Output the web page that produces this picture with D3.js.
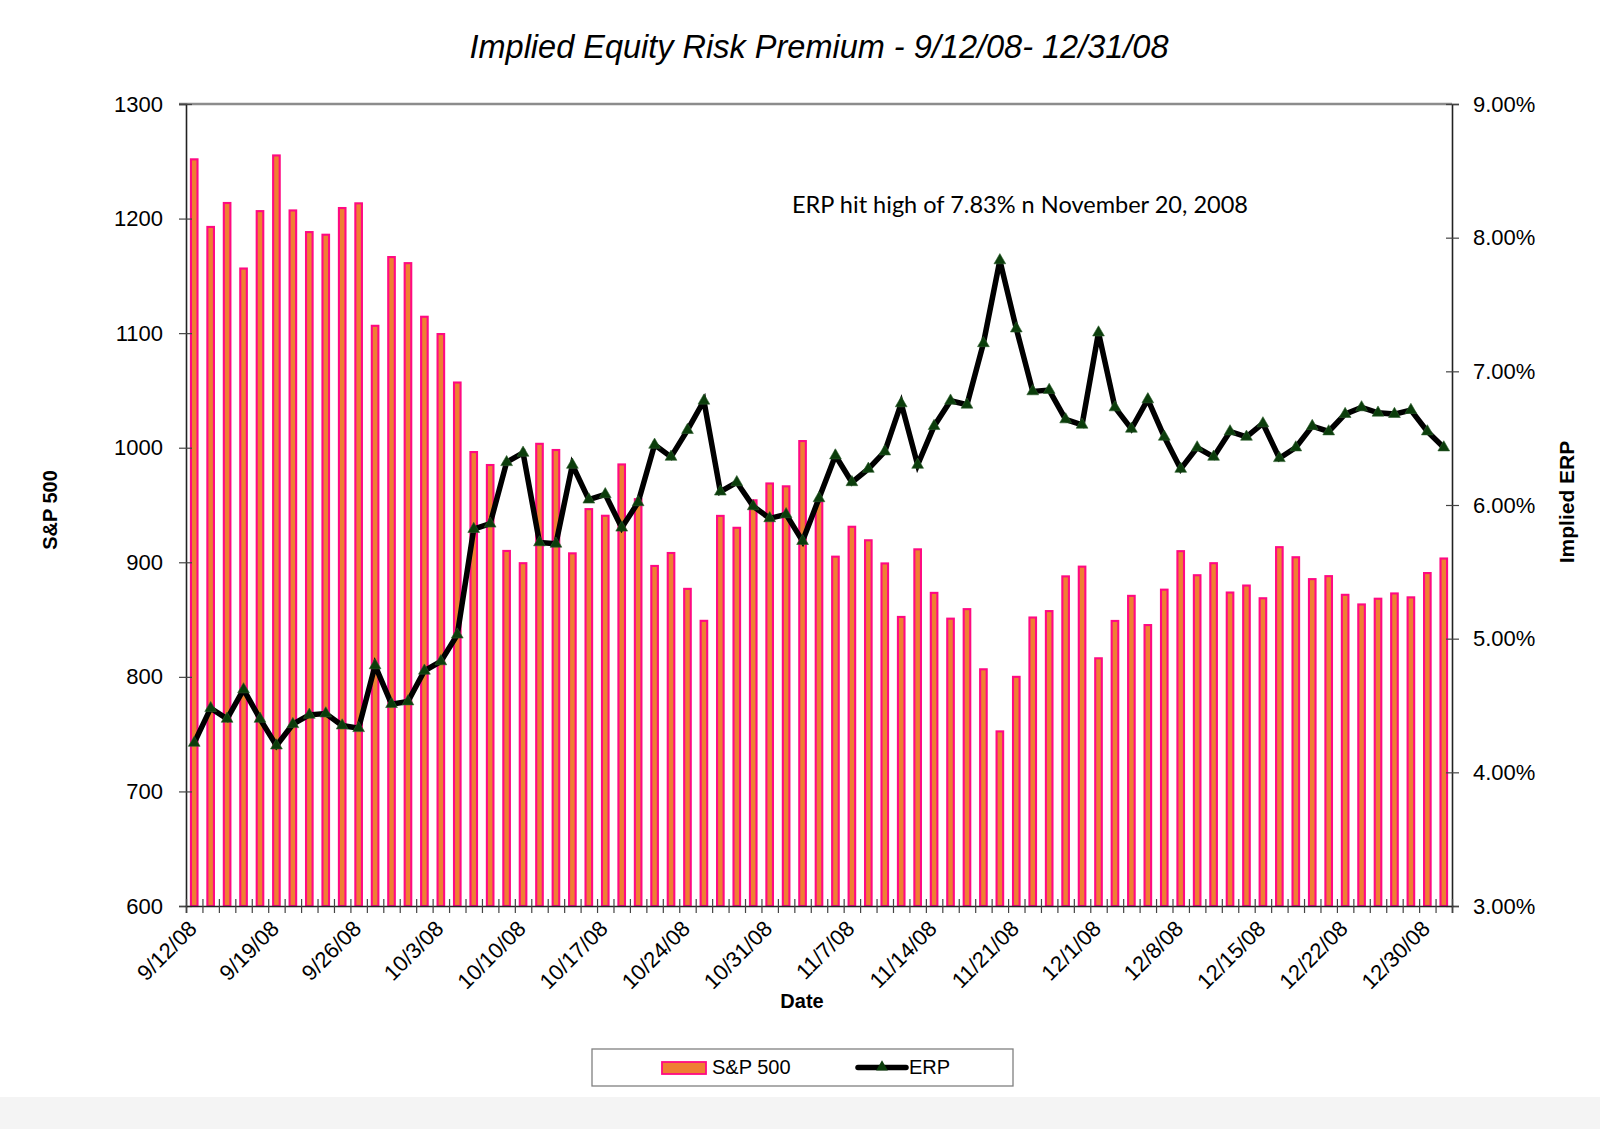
<!DOCTYPE html>
<html>
<head>
<meta charset="utf-8">
<script src="https://cdn.jsdelivr.net/npm/d3@7"></script>
<style>
  html, body { margin: 0; padding: 0; background: #fff; }
  svg { display: block; font-family: "Liberation Sans", Arial, sans-serif; }
</style>
</head>
<body>
<svg id="chart" width="1600" height="1129"></svg>
<script>

// trading days, 9/12/08 - 12/31/08
var dates = ["9/12/08","9/15/08","9/16/08","9/17/08","9/18/08","9/19/08","9/22/08","9/23/08","9/24/08","9/25/08","9/26/08","9/29/08","9/30/08",
  "10/1/08","10/2/08","10/3/08","10/6/08","10/7/08","10/8/08","10/9/08","10/10/08","10/13/08","10/14/08","10/15/08","10/16/08","10/17/08",
  "10/20/08","10/21/08","10/22/08","10/23/08","10/24/08","10/27/08","10/28/08","10/29/08","10/30/08","10/31/08",
  "11/3/08","11/4/08","11/5/08","11/6/08","11/7/08","11/10/08","11/11/08","11/12/08","11/13/08","11/14/08","11/17/08","11/18/08",
  "11/19/08","11/20/08","11/21/08","11/24/08","11/25/08","11/26/08","11/28/08",
  "12/1/08","12/2/08","12/3/08","12/4/08","12/5/08","12/8/08","12/9/08","12/10/08","12/11/08","12/12/08","12/15/08","12/16/08",
  "12/17/08","12/18/08","12/19/08","12/22/08","12/23/08","12/24/08","12/26/08","12/29/08","12/30/08","12/31/08"];

var sp500 = [1251.7,1192.7,1213.6,1156.4,1206.5,1255.1,1207.1,1188.2,1185.9,1209.2,1213.3,1106.4,1166.4,
  1161.1,1114.3,1099.2,1056.9,996.2,984.9,909.9,899.2,1003.4,998.0,907.8,946.4,940.6,
  985.4,955.1,896.8,908.1,876.8,848.9,940.5,930.1,954.1,968.8,
  966.3,1005.8,952.8,904.9,931.0,919.2,899.0,852.3,911.3,873.3,850.8,859.1,
  806.6,752.4,800.0,851.8,857.4,887.7,896.2,
  816.2,848.8,870.7,845.2,876.1,909.7,888.7,899.2,873.6,879.7,868.6,913.2,
  904.4,885.3,887.9,871.6,863.2,868.2,872.8,869.4,890.6,903.3];

// implied ERP in %
var erp = [4.22,4.48,4.40,4.62,4.40,4.20,4.36,4.43,4.44,4.35,4.33,4.80,4.51,
  4.53,4.76,4.83,5.03,5.82,5.86,6.32,6.39,5.72,5.71,6.30,6.04,6.08,
  5.83,6.02,6.45,6.36,6.56,6.78,6.10,6.17,5.99,5.90,
  5.93,5.73,6.05,6.37,6.17,6.27,6.40,6.76,6.30,6.59,6.78,6.75,
  7.21,7.83,7.32,6.85,6.86,6.64,6.60,
  7.29,6.73,6.57,6.79,6.51,6.27,6.43,6.36,6.55,6.51,6.61,6.35,
  6.43,6.59,6.55,6.68,6.73,6.69,6.68,6.71,6.55,6.43];

var leftTicks = [600,700,800,900,1000,1100,1200,1300];
var rightTicks = [3,4,5,6,7,8,9];
var labelEvery = 5;

var pL = 186, pR = 1452, pT = 104, pB = 906;
var svg = d3.select('#chart');

// grey strip at the foot of the picture
svg.append('rect').attr('x',0).attr('y',1097).attr('width',1600).attr('height',32).attr('fill','#f4f4f4');

var x = d3.scaleBand().domain(d3.range(dates.length)).range([pL,pR]).paddingInner(0.6).paddingOuter(0.3);
var xb = d3.scaleLinear().domain([0,dates.length]).range([pL,pR]);
var yL = d3.scaleLinear().domain([600,1300]).range([pB,pT]);
var yR = d3.scaleLinear().domain([3,9]).range([pB,pT]);

// top border of plot area
svg.append('line').attr('x1',pL-7).attr('x2',pR).attr('y1',pT).attr('y2',pT)
   .attr('stroke','#8c8c8c').attr('stroke-width',2.5);

// bars
svg.append('g').selectAll('rect').data(sp500).enter().append('rect')
   .attr('x', function(d,i){ return x(i); })
   .attr('y', function(d){ return yL(d); })
   .attr('width', x.bandwidth())
   .attr('height', function(d){ return pB - yL(d); })
   .attr('fill','#ef7f32').attr('stroke','#ff0a82').attr('stroke-width',2.1);

// left axis
var gL = svg.append('g').attr('transform','translate('+pL+',0)')
   .call(d3.axisLeft(yL).tickValues(leftTicks).tickSize(7).tickPadding(16).tickFormat(d3.format('d')));
gL.selectAll('.tick line').attr('x1',6);
// right axis
var gR = svg.append('g').attr('transform','translate('+pR+',0)')
   .call(d3.axisRight(yR).tickValues(rightTicks).tickSize(7).tickPadding(14)
         .tickFormat(function(d){ return d3.format('.2f')(d)+'%'; }));
gR.selectAll('.tick line').attr('x1',-6);
// bottom axis, ticks between categories
var gB = svg.append('g').attr('transform','translate(0,'+pB+')')
   .call(d3.axisBottom(xb).tickValues(d3.range(dates.length+1)).tickSize(7).tickFormat(''));
gB.selectAll('.tick line').attr('y1',-7);

[gL,gR,gB].forEach(function(g){
  g.selectAll('.domain').attr('stroke','#222').attr('stroke-width',1.6);
  g.selectAll('.tick line').attr('stroke','#444').attr('stroke-width',1.2);
  g.selectAll('text').attr('font-size',22).attr('fill','#000')
   .attr('font-family','"Liberation Sans", Arial, sans-serif');
});

// date labels
svg.append('g').selectAll('text')
   .data(dates.filter(function(d,i){ return i % labelEvery === 0; })).enter().append('text')
   .attr('transform', function(d){ return 'translate('+(x.bandwidth()/2 + x(dates.indexOf(d)) + 4)+',930) rotate(-45)'; })
   .attr('text-anchor','end').attr('font-size',22).text(function(d){ return d; });

// ERP line
var line = d3.line().x(function(d,i){ return x(i)+x.bandwidth()/2; }).y(function(d){ return yR(d); });
svg.append('path').datum(erp).attr('d',line).attr('fill','none')
   .attr('stroke','#000').attr('stroke-width',5.5).attr('stroke-linejoin','miter');
var tri = d3.symbol().type(d3.symbolTriangle).size(60);
svg.append('g').selectAll('path').data(erp).enter().append('path')
   .attr('d', tri)
   .attr('transform', function(d,i){ return 'translate('+(x(i)+x.bandwidth()/2)+','+yR(d)+')'; })
   .attr('fill','#0b3d0b').attr('stroke','#2f5f2f').attr('stroke-width',0.6);

// titles
svg.append('text').attr('x',819).attr('y',58).attr('text-anchor','middle')
   .attr('font-size',32.5).attr('font-style','italic').text('Implied Equity Risk Premium - 9/12/08- 12/31/08');
svg.append('text').attr('transform','translate(57,510) rotate(-90)').attr('text-anchor','middle')
   .attr('font-size',20).attr('font-weight','bold').text('S&P 500');
svg.append('text').attr('transform','translate(1574,502) rotate(-90)').attr('text-anchor','middle')
   .attr('font-size',21).attr('font-weight','bold').text('Implied ERP');
svg.append('text').attr('x',802).attr('y',1008).attr('text-anchor','middle')
   .attr('font-size',20).attr('font-weight','bold').text('Date');

svg.append('text').attr('x',1020).attr('y',213).attr('text-anchor','middle')
   .attr('font-family','Lato, "Open Sans", sans-serif').attr('font-size',24)
   .attr('textLength',456).attr('lengthAdjust','spacingAndGlyphs')
   .text('ERP hit high of 7.83% n November 20, 2008');

// legend
var lg = svg.append('g');
lg.append('rect').attr('x',592).attr('y',1049).attr('width',421).attr('height',37)
  .attr('fill','#fff').attr('stroke','#808080').attr('stroke-width',1.3);
lg.append('rect').attr('x',662).attr('y',1062).attr('width',44).attr('height',12)
  .attr('fill','#ef7f32').attr('stroke','#ff0a82').attr('stroke-width',1.8);
lg.append('text').attr('x',712).attr('y',1074).attr('font-size',20).text('S&P 500');
lg.append('line').attr('x1',858).attr('x2',906).attr('y1',1067.5).attr('y2',1067.5)
  .attr('stroke','#000').attr('stroke-width',5.5).attr('stroke-linecap','round');
lg.append('path').attr('d',tri).attr('transform','translate(882,1067)').attr('fill','#0b3d0b');
lg.append('text').attr('x',909).attr('y',1074).attr('font-size',20).text('ERP');

</script>
</body>
</html>
